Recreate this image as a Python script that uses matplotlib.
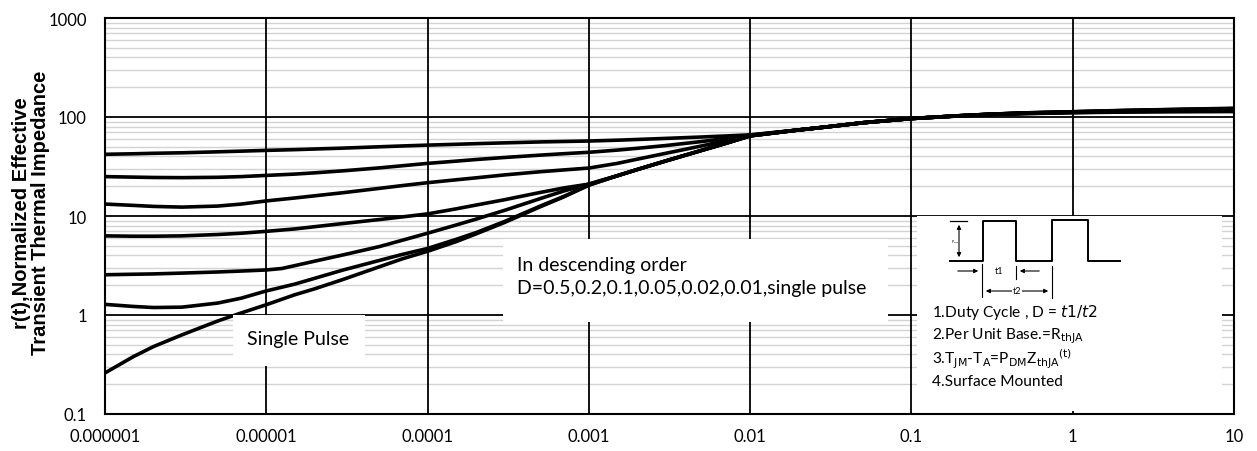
import matplotlib
matplotlib.use("Agg")
import matplotlib.pyplot as plt
from matplotlib.patches import Rectangle, FancyArrowPatch
from matplotlib.ticker import LogLocator, NullFormatter, NullLocator

# ---------------- data ----------------
t = [1e-6, 1.5e-6, 2e-6, 3e-6, 5e-6, 7e-6,
     1e-5, 1.5e-5, 2e-5, 3e-5, 5e-5, 7e-5,
     1e-4, 1.5e-4, 2e-4, 3e-4, 5e-4, 7e-4,
     1e-3, 1.5e-3, 2e-3, 3e-3, 5e-3, 7e-3,
     1e-2, 2e-2, 3e-2, 5e-2,
     0.1, 0.2, 0.3, 0.5, 1, 2, 3, 5, 10]

d050 = [42, 42.5, 43, 43.5, 44.5, 45.2,
        46, 46.8, 47.5, 48.5, 50, 51,
        52, 53, 53.8, 54.8, 56, 56.6,
        57.2, 58.3, 59.3, 60.8, 62.8, 64.3,
        66, 74, 79.5, 87.5,
        96.5, 102.5, 105.5, 108, 110.5, 112, 112.5, 113, 113.5]
d020 = [25, 24.7, 24.5, 24.4, 24.6, 25,
        25.7, 26.5, 27.3, 28.6, 30.6, 32.2,
        34, 35.8, 37.2, 39, 41.2, 42.6,
        44, 46.3, 48.3, 51.5, 56.5, 60.5,
        65.5, 74, 79.5, 87.5,
        96.5, 103, 106, 108.5, 111, 113, 114, 115, 115.5]
d010 = [13.2, 12.8, 12.5, 12.3, 12.6, 13.2,
        14.2, 15.2, 16, 17.2, 19, 20.3,
        21.7, 23.2, 24.3, 26, 28, 29.2,
        30.5, 34, 37.5, 43, 51, 57.5,
        65, 74, 79.5, 87.5,
        96.5, 103, 106, 109, 111.5, 114, 115, 116.5, 117.5]
d005 = [6.3, 6.25, 6.25, 6.3, 6.5, 6.7,
        7.0, 7.4, 7.8, 8.4, 9.2, 9.8,
        10.5, 11.8, 12.9, 14.6, 17.3, 19.2,
        21, 25.5, 29.5, 36, 46, 54,
        64.5, 74, 79.5, 87.5,
        96.5, 103, 106.5, 109.5, 112, 115, 116.5, 118, 119.5]

t002 = [1e-6, 1.5e-6, 2e-6, 3e-6, 5e-6, 7e-6,
        1e-5, 1.25e-5, 1.5e-5, 2e-5, 3e-5, 5e-5, 7e-5,
        1e-4, 1.5e-4, 2e-4, 3e-4, 5e-4, 7e-4,
        1e-3, 1.5e-3, 2e-3, 3e-3, 5e-3, 7e-3,
        1e-2, 2e-2, 3e-2, 5e-2,
        0.1, 0.2, 0.3, 0.5, 1, 2, 3, 5, 10]
d002 = [2.55, 2.58, 2.6, 2.65, 2.72, 2.78,
        2.85, 2.95, 3.15, 3.5, 4.05, 4.9, 5.7,
        6.7, 8.1, 9.3, 11.4, 15.0, 17.9,
        21, 25.5, 29.5, 36, 46, 54,
        64.5, 74, 79.5, 87.5,
        96.5, 103, 106.5, 109.5, 112.5, 115.5, 117, 118.5, 120.5]
d001 = [1.28, 1.22, 1.19, 1.2, 1.32, 1.48,
        1.75, 2.05, 2.35, 2.85, 3.55, 4.1,
        4.7, 5.8, 6.8, 8.8, 12.6, 15.8,
        20.5, 25.5, 29.5, 36, 46, 54,
        64.5, 74, 79.5, 87.5,
        96.5, 103, 106.5, 110, 113, 116, 117.5, 119.5, 121.5]
single = [0.26, 0.38, 0.48, 0.63, 0.87, 1.05,
          1.27, 1.6, 1.84, 2.29, 3.06, 3.7,
          4.4, 5.5, 6.6, 8.6, 12.4, 15.6,
          20.5, 25.5, 29.5, 36, 46, 54,
          64.5, 74, 79.5, 87.5,
          96.5, 103, 106.5, 110, 113, 116.5, 118, 120, 122.5]

xticks = [1e-6, 1e-5, 1e-4, 1e-3, 1e-2, 1e-1, 1, 10]
xticklabels = ["0.000001", "0.00001", "0.0001", "0.001", "0.01", "0.1", "1", "10"]
yticks = [0.1, 1, 10, 100, 1000]
yticklabels = ["0.1", "1", "10", "100", "1000"]

ylabel = "r(t),Normalized Effective\nTransient Thermal Impedance"
note_order = "In descending order\nD=0.5,0.2,0.1,0.05,0.02,0.01,single pulse"
note_single = "Single Pulse"
inset_lines = ["1.Duty Cycle , D = $t1/t2$",
               "2.Per Unit Base.=R$_{\\mathrm{thJA}}$",
               "3.T$_{\\mathrm{JM}}$-T$_{\\mathrm{A}}$=P$_{\\mathrm{DM}}$Z$_{\\mathrm{thJA}}$$^{\\mathrm{(t)}}$",
               "4.Surface Mounted"]

# ---------------- figure ----------------
W, H = 1257, 452
fig = plt.figure(figsize=(W / 100, H / 100), dpi=100)
ax = fig.add_axes([105 / W, 1 - 415 / H, (1234 - 105) / W, (415 - 19) / H])


def fx(px):
    return px / W


def fy(py):
    return 1 - py / H


ax.set_xscale("log")
ax.set_yscale("log")
ax.set_xlim(1e-6, 10)
ax.set_ylim(0.1, 1000)

ax.yaxis.set_minor_locator(LogLocator(base=10, subs=range(2, 10), numticks=20))
ax.yaxis.set_minor_formatter(NullFormatter())
ax.xaxis.set_minor_locator(NullLocator())
ax.set_xticks(xticks)
ax.set_xticklabels(xticklabels)
ax.set_yticks(yticks)
ax.set_yticklabels(yticklabels)
ax.tick_params(which="both", length=0, labelsize=12)
ax.tick_params(axis="x", pad=10)
ax.tick_params(axis="y", pad=13)
for lab in ax.get_xticklabels() + ax.get_yticklabels():
    lab.set_family("Lato")

ax.set_axisbelow(True)
ax.grid(which="minor", axis="y", color="#d3d3d3", linewidth=1.0)
for xv in xticks:
    ax.axvline(xv, color="black", linewidth=1.3, zorder=1.5)
for yv in yticks:
    ax.axhline(yv, color="black", linewidth=1.3, zorder=1.5)
for s in ax.spines.values():
    s.set_linewidth(1.5)
    s.set_color("black")

lw = 2.6
for y in [d050, d020, d010, d005]:
    ax.plot(t, y, color="black", lw=lw, zorder=3)
ax.plot(t002, d002, color="black", lw=lw, zorder=3)
ax.plot(t, d001, color="black", lw=lw, zorder=3)
ax.plot(t, single, color="black", lw=lw, zorder=3)

fig.text(fx(31), fy(213), ylabel, rotation=90, ha="center", va="center",
         family="Liberation Sans", weight="bold", fontsize=14.5, linespacing=1.05)

# white note boxes
fig.patches.append(Rectangle((fx(233), fy(367)), (365 - 233) / W, (367 - 316) / H,
                             transform=fig.transFigure, facecolor="white",
                             edgecolor="none", zorder=4))
fig.text(fx(298), fy(340), note_single, ha="center", va="center",
         family="Lato", fontsize=14, zorder=5)

fig.patches.append(Rectangle((fx(503), fy(323)), (888 - 503) / W, (323 - 240) / H,
                             transform=fig.transFigure, facecolor="white",
                             edgecolor="none", zorder=4))
fig.text(fx(517), fy(277), note_order, ha="left", va="center",
         family="Lato", fontsize=14, linespacing=1.4, zorder=5)

# inset
ia = fig.add_axes([fx(917), fy(412), (1222 - 917) / W, (412 - 217) / H])
ia.set_xlim(917, 1222)
ia.set_ylim(412, 217)
ia.axis("off")
ia.set_zorder(5)
ia.add_patch(Rectangle((917, 217), 305, 195, facecolor="white", edgecolor="none"))

ia.plot([950, 983, 983, 1016, 1016, 1052, 1052, 1088, 1088, 1120],
        [262, 262, 222, 222, 262, 262, 221, 221, 262, 262], color="black", lw=1.4)
ia.plot([950, 967], [222, 222], color="black", lw=0.9)
ia.add_patch(FancyArrowPatch((959, 223), (959, 261), arrowstyle="<|-|>",
                             mutation_scale=6, color="black", lw=0.8))
ia.text(955, 242, "P$_{DM}$", fontsize=2.5, ha="center", va="center")
for xv, y0, y1 in [(982, 265, 298), (1016, 267, 280), (1052, 267, 299)]:
    ia.plot([xv, xv], [y0, y1], color="black", lw=0.8)
ia.add_patch(FancyArrowPatch((955, 272), (981, 272), arrowstyle="-|>",
                             mutation_scale=6, color="black", lw=0.8))
ia.add_patch(FancyArrowPatch((1042, 272), (1017, 272), arrowstyle="-|>",
                             mutation_scale=6, color="black", lw=0.8))
ia.text(999, 272, "t1", fontsize=6.5, ha="center", va="center", family="Lato")
ia.add_patch(FancyArrowPatch((983, 292), (1051, 292), arrowstyle="<|-|>",
                             mutation_scale=6, color="black", lw=0.8))
ia.text(1017, 292, "t2", fontsize=6.5, ha="center", va="center", family="Lato",
        bbox=dict(facecolor="white", edgecolor="none", pad=0.2))

for i, s in enumerate(inset_lines):
    ia.text(932, 313 + i * 23, s, fontsize=11.2, ha="left", va="center",
            family="Lato")

fig.savefig("out.png", dpi=100)
